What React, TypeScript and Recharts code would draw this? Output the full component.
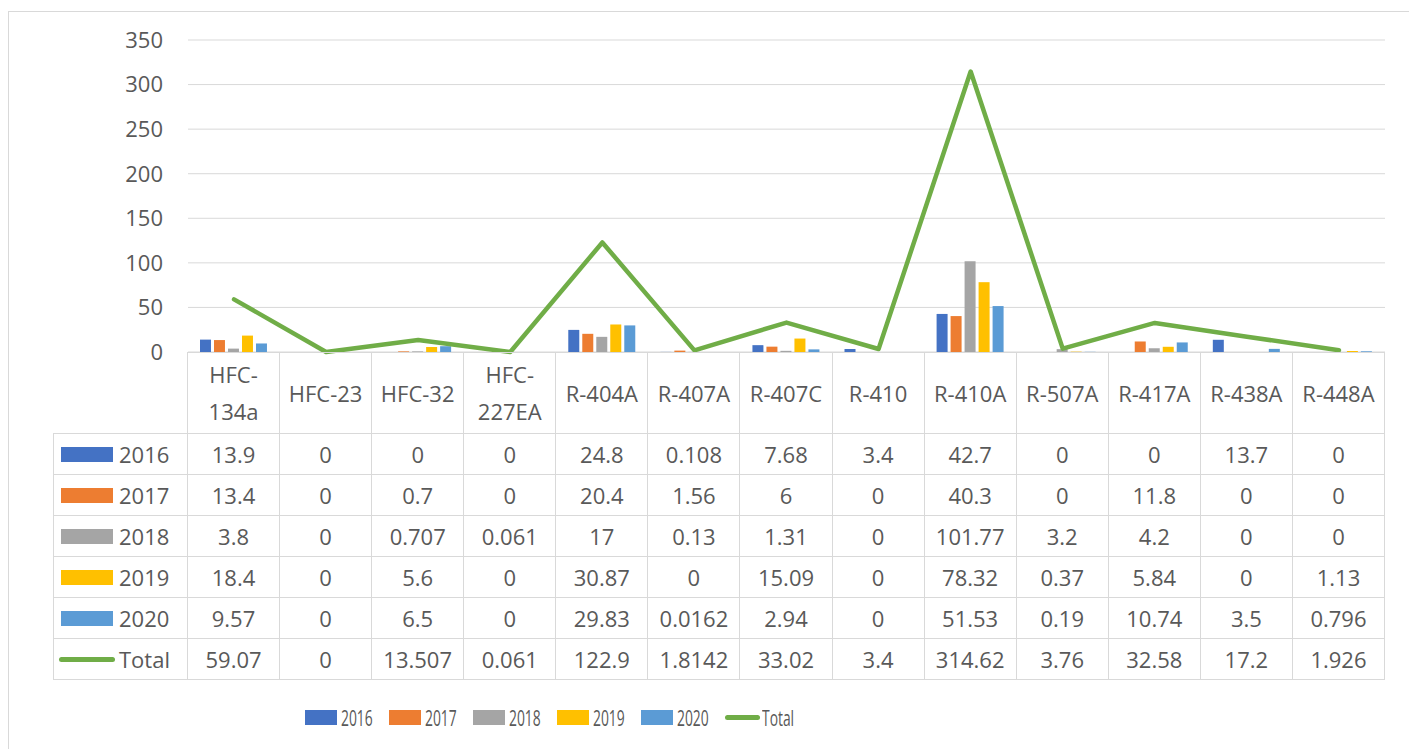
import React from 'react'
import { ComposedChart, Bar, Line, XAxis, YAxis, CartesianGrid } from 'recharts'

const FONT = "'Open Sans', 'Noto Sans', sans-serif"
const TEXT = '#595959'
const GRID = '#D9D9D9'

const categories = ['HFC-134a', 'HFC-23', 'HFC-32', 'HFC-227EA', 'R-404A', 'R-407A', 'R-407C', 'R-410', 'R-410A', 'R-507A', 'R-417A', 'R-438A', 'R-448A']
const y2016 = [13.9, 0, 0, 0, 24.8, 0.108, 7.68, 3.4, 42.7, 0, 0, 13.7, 0]
const y2017 = [13.4, 0, 0.7, 0, 20.4, 1.56, 6, 0, 40.3, 0, 11.8, 0, 0]
const y2018 = [3.8, 0, 0.707, 0.061, 17, 0.13, 1.31, 0, 101.77, 3.2, 4.2, 0, 0]
const y2019 = [18.4, 0, 5.6, 0, 30.87, 0, 15.09, 0, 78.32, 0.37, 5.84, 0, 1.13]
const y2020 = [9.57, 0, 6.5, 0, 29.83, 0.0162, 2.94, 0, 51.53, 0.19, 10.74, 3.5, 0.796]
const total = [59.07, 0, 13.507, 0.061, 122.9, 1.8142, 33.02, 3.4, 314.62, 3.76, 32.58, 17.2, 1.926]
const yTicks = [0, 50, 100, 150, 200, 250, 300, 350]

const barSeries = [
  { key: 'y2016', name: '2016', color: '#4472C4', values: y2016 },
  { key: 'y2017', name: '2017', color: '#ED7D31', values: y2017 },
  { key: 'y2018', name: '2018', color: '#A5A5A5', values: y2018 },
  { key: 'y2019', name: '2019', color: '#FFC000', values: y2019 },
  { key: 'y2020', name: '2020', color: '#5B9BD5', values: y2020 },
]
const LINE_COLOR = '#70AD47'

const data = categories.map((c, i) => ({
  name: c,
  y2016: y2016[i], y2017: y2017[i], y2018: y2018[i], y2019: y2019[i], y2020: y2020[i],
  total: total[i],
}))

const rows = [
  ...barSeries.map(s => ({ name: s.name, color: s.color, values: s.values, line: false })),
  { name: 'Total', color: LINE_COLOR, values: total, line: true },
]

const border = `1px solid ${GRID}`

export default function App() {
  const cell: React.CSSProperties = {
    boxSizing: 'border-box', borderRight: border, borderBottom: border,
    display: 'flex', alignItems: 'center', justifyContent: 'center',
    fontSize: 22, color: TEXT,
  }
  return (
    <div style={{
      position: 'relative', width: 1407, height: 745, marginTop: 3,
      border, boxSizing: 'border-box', fontFamily: FONT, color: TEXT, background: '#fff',
    }}>
      <div style={{ position: 'absolute', left: 0, top: 0 }}>
        <ComposedChart width={1405} height={360} data={data}
          margin={{ top: 28, right: 29, bottom: 20, left: 79 }}
          barCategoryGap="13%" barGap={3}>
          <CartesianGrid vertical={false} stroke={GRID} />
          <XAxis dataKey="name" hide />
          <YAxis width={100} domain={[0, 350]} ticks={yTicks} interval={0}
            axisLine={false} tickLine={false} tickSize={0} tickMargin={25}
            tick={{ fill: TEXT, fontSize: 22, fontFamily: FONT }} />
          {barSeries.map(s => (
            <Bar key={s.key} dataKey={s.key} fill={s.color} isAnimationActive={false} />
          ))}
          <Line type="linear" dataKey="total" stroke={LINE_COLOR} strokeWidth={4.5}
            dot={false} activeDot={false} strokeLinecap="round" strokeLinejoin="round"
            isAnimationActive={false} />
        </ComposedChart>
      </div>

      {/* data table */}
      <div style={{
        position: 'absolute', left: 44, top: 340, width: 1332,
        display: 'grid', gridTemplateColumns: '135px repeat(13, 1fr)',
        gridTemplateRows: '82px repeat(6, 41px)',
      }}>
        <div style={{ ...cell }} />
        {categories.map(c => (
          <div key={c} style={{ ...cell, borderTop: border, textAlign: 'center', lineHeight: '37px', padding: '0 4px' }}>
            {c}
          </div>
        ))}
        {rows.map(r => (
          <React.Fragment key={r.name}>
            <div style={{ ...cell, borderLeft: border, justifyContent: 'flex-start', paddingLeft: r.line ? 5 : 7 }}>
              {r.line
                ? <div style={{ width: 56, height: 5, borderRadius: 3, background: r.color, marginRight: 4 }} />
                : <div style={{ width: 52, height: 15, background: r.color, marginRight: 6 }} />}
              <span>{r.name}</span>
            </div>
            {r.values.map((v, i) => (
              <div key={i} style={cell}>{String(v)}</div>
            ))}
          </React.Fragment>
        ))}
      </div>

      {/* legend */}
      <div style={{ position: 'absolute', left: 296, top: 693, height: 24, display: 'flex', alignItems: 'center' }}>
        {barSeries.map(s => (
          <div key={s.key} style={{ display: 'flex', alignItems: 'center', marginRight: 16 }}>
            <div style={{ width: 32, height: 15, background: s.color, marginRight: 4 }} />
            <span style={{ display: 'inline-block', width: 32, fontSize: 22, transform: 'scaleX(0.63)', transformOrigin: 'left center', whiteSpace: 'nowrap' }}>{s.name}</span>
          </div>
        ))}
        <div style={{ display: 'flex', alignItems: 'center' }}>
          <div style={{ width: 35, height: 5, borderRadius: 3, background: LINE_COLOR, marginRight: 2 }} />
          <span style={{ display: 'inline-block', width: 34, fontSize: 22, transform: 'scaleX(0.63)', transformOrigin: 'left center', whiteSpace: 'nowrap' }}>Total</span>
        </div>
      </div>
    </div>
  )
}
